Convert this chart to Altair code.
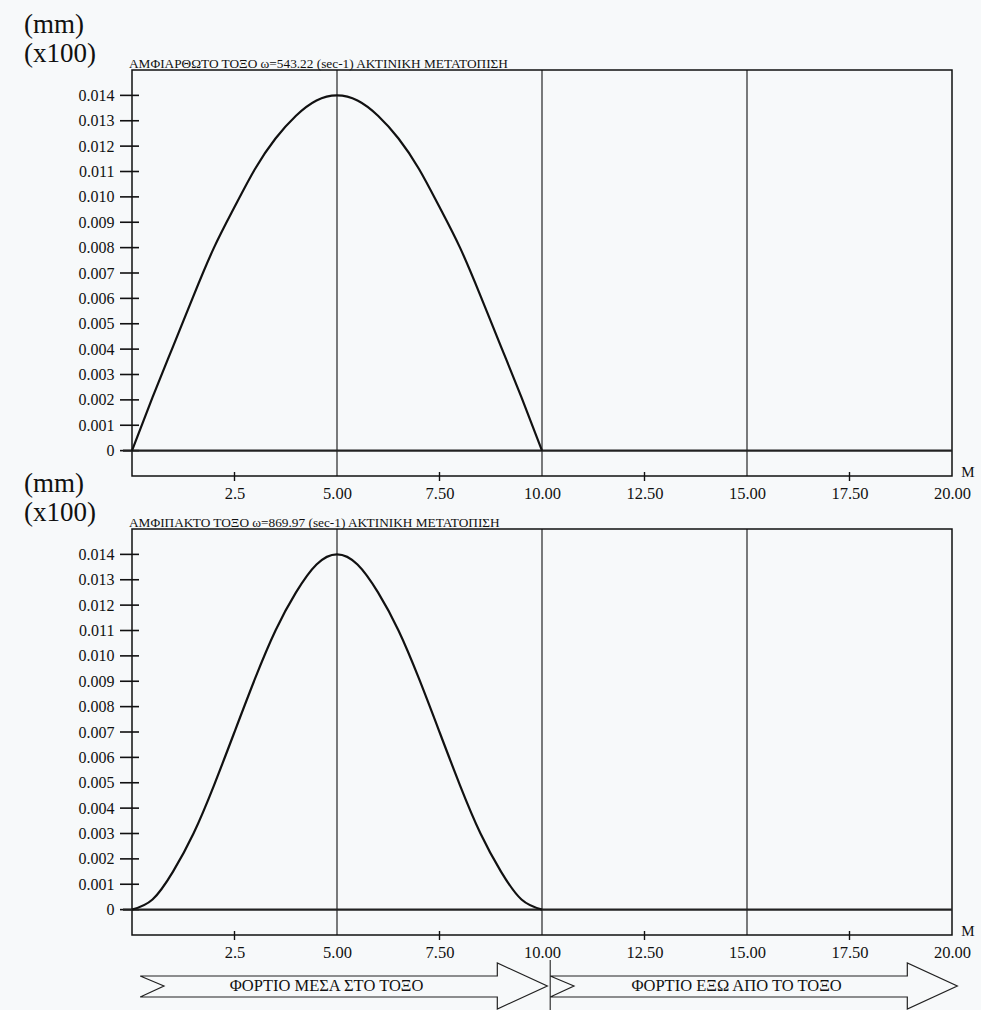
import altair as alt
import pandas as pd

# ---------------- values ----------------
positions = [0, 0.5, 1, 1.5, 2, 2.5, 3, 3.5, 4, 4.5, 5, 5.5, 6, 6.5, 7, 7.5,
             8, 8.5, 9, 9.5, 10]
hinged = [0, 0.0021, 0.0041, 0.0061, 0.0080, 0.0096, 0.0111, 0.0123, 0.0132,
          0.0138, 0.0140, 0.0138, 0.0132, 0.0123, 0.0111, 0.0096, 0.0080,
          0.0061, 0.0041, 0.0021, 0]
fixed = [0, 0.0004, 0.0015, 0.0030, 0.0049, 0.0070, 0.0091, 0.0110, 0.0125,
         0.0136, 0.0140, 0.0136, 0.0125, 0.0110, 0.0091, 0.0070, 0.0049,
         0.0030, 0.0015, 0.0004, 0]
y_ticks = [0, 0.001, 0.002, 0.003, 0.004, 0.005, 0.006, 0.007, 0.008, 0.009,
           0.010, 0.011, 0.012, 0.013, 0.014]
x_labels = [2.5, 5, 7.5, 10, 12.5, 15, 17.5, 20]
minor_ticks = [2.5, 7.5, 12.5, 17.5]
grid_lines = [5, 10, 15]
titles = ["ΑΜΦΙΑΡΘΩΤΟ ΤΟΞΟ ω=543.22 (sec-1)  ΑΚΤΙΝΙΚΗ ΜΕΤΑΤΟΠΙΣΗ",
          "ΑΜΦΙΠΑΚΤΟ ΤΟΞΟ ω=869.97 (sec-1)  ΑΚΤΙΝΙΚΗ ΜΕΤΑΤΟΠΙΣΗ"]
unit_lines = ["(mm)", "(x100)"]
x_unit = "M"
region_names = ["ΦΟΡΤΙΟ ΜΕΣΑ ΣΤΟ ΤΟΞΟ", "ΦΟΡΤΙΟ ΕΞΩ ΑΠΟ ΤΟ ΤΟΞΟ"]
region_start = [0, 10]
region_end = [10, 20]

# ---------------- styling ----------------
W, H = 820, 406
FONT = "Liberation Serif"
INK = "#111111"

xs = alt.Scale(domain=[0, 20], nice=False, zero=False)
ys = alt.Scale(domain=[-0.001, 0.015], nice=False, zero=False)

x_axis = alt.Axis(values=x_labels, title=None, ticks=False, domain=False, grid=False,
                  labelExpr="datum.value == 2.5 ? '2.5' : format(datum.value, '.2f')",
                  labelFont=FONT, labelFontSize=16.5, labelColor=INK, labelPadding=9,
                  labelFlush=False, labelOverlap=False)
y_axis = alt.Axis(values=y_ticks, title=None, ticks=False, domain=False, grid=False,
                  labelExpr="datum.value == 0 ? '0' : format(datum.value, '.3f')",
                  labelFont=FONT, labelFontSize=16, labelColor=INK, labelPadding=18,
                  labelOverlap=False)


def X(field):
    return alt.X(field, type="quantitative", scale=xs, axis=x_axis)


def Y(field):
    return alt.Y(field, type="quantitative", scale=ys, axis=y_axis)


def arrows_layers():
    # block arrows below the lower panel, spanning the load regions
    body_top, head_top, mid, body_bot, head_bot = H + 41, H + 28, H + 51, H + 62, H + 74
    rows, texts = [], []
    for i, (name, a, b) in enumerate(zip(region_names, region_start, region_end)):
        tail = a + 0.2
        notch = tail + 0.58
        tip = b + 0.13
        base = tip - 1.22
        pts = [(tail, body_top), (base, body_top), (base, head_top), (tip, mid),
               (base, head_bot), (base, body_bot), (tail, body_bot), (notch, mid),
               (tail, body_top)]
        for k, (px, py) in enumerate(pts):
            rows.append({"arrow": i, "o": k, "x": px, "py": py})
        texts.append({"t": name, "x": (notch + base) / 2 - 0.1, "py": mid})
    arrow_df = pd.DataFrame(rows)
    text_df = pd.DataFrame(texts)
    divider_df = pd.DataFrame({"x": [region_start[1] + 0.2]})

    outline = alt.Chart(arrow_df).mark_line(color="#222222", strokeWidth=1.2).encode(
        x=X("x"), y=alt.Y("py:Q", scale=None), detail="arrow:N", order="o:Q")
    labels = alt.Chart(text_df).mark_text(font=FONT, fontSize=16.5, color=INK,
                                          baseline="middle").encode(
        x=X("x"), y=alt.Y("py:Q", scale=None), text="t:N")
    divider = alt.Chart(divider_df).mark_rule(color="#222222", strokeWidth=1.1).encode(
        x=X("x"), y=alt.value(H + 25), y2=alt.value(H + 84))
    return [outline, divider, labels]


def panel(values, title, with_arrows=False):
    curve_df = pd.DataFrame({"x": positions, "y": values})
    grid_df = pd.DataFrame({"x": grid_lines})
    minor_df = pd.DataFrame({"x": minor_ticks})
    ytick_df = pd.DataFrame({"y": y_ticks})
    zero_df = pd.DataFrame({"y": [0]})
    unit_df = pd.DataFrame({"t": unit_lines, "dy": [-45, -16]})
    m_df = pd.DataFrame({"t": [x_unit]})
    title_df = pd.DataFrame({"t": [title]})

    grid = alt.Chart(grid_df).mark_rule(color=INK, strokeWidth=1.1).encode(
        x=X("x"), y=alt.value(0), y2=alt.value(H))
    minor = alt.Chart(minor_df).mark_rule(color=INK, strokeWidth=1.4).encode(
        x=X("x"), y=alt.value(H - 4), y2=alt.value(H + 5))
    yt = alt.Chart(ytick_df).mark_rule(color=INK, strokeWidth=1.6).encode(
        y=Y("y"), x=alt.value(-12), x2=alt.value(7))
    zero = alt.Chart(zero_df).mark_rule(color="#222222", strokeWidth=2.4).encode(
        y=Y("y"), x=alt.value(-9), x2=alt.value(W))
    curve = alt.Chart(curve_df).mark_line(color=INK, strokeWidth=2.2,
                                          interpolate="natural").encode(
        x=X("x"), y=Y("y"))
    units = alt.Chart(unit_df).mark_text(font=FONT, fontSize=27, color=INK,
                                         align="left", baseline="middle").encode(
        x=alt.value(-108), y=alt.Y("dy:Q", scale=None), text="t:N")
    m_txt = alt.Chart(m_df).mark_text(font=FONT, fontSize=15, color=INK,
                                      align="center", baseline="middle").encode(
        x=alt.value(W + 16), y=alt.value(H - 4), text="t:N")
    ttl = alt.Chart(title_df).mark_text(font=FONT, fontSize=13.3, color=INK,
                                        align="left", baseline="alphabetic").encode(
        x=alt.value(-3), y=alt.value(-2), text="t:N")

    layers = [grid, minor, yt, zero, curve, units, m_txt, ttl]
    if with_arrows:
        layers += arrows_layers()
    return alt.layer(*layers).properties(width=W, height=H)


chart = alt.vconcat(panel(hinged, titles[0]), panel(fixed, titles[1], True),
                    spacing=53, bounds="flush").properties(
    padding={"left": 23, "top": 10, "right": 5, "bottom": 0},
    background="#f7f9fa",
).configure_view(stroke=INK, strokeWidth=1.5)

chart.save("out.html", embed_options={"renderer": "svg", "actions": False})
